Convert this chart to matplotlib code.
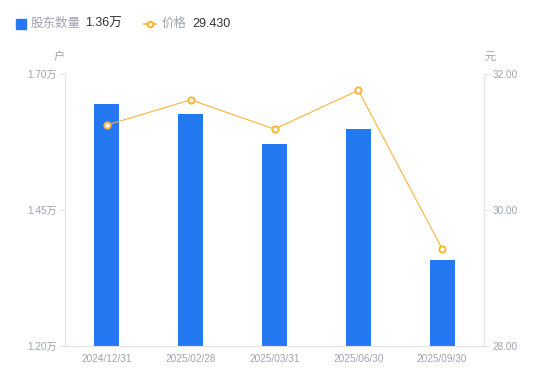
import matplotlib.pyplot as plt
import numpy as np

plt.rcParams['font.family'] = ['Liberation Sans', 'Noto Sans CJK SC', 'DejaVu Sans']

# data
dates = ["2024/12/31", "2025/02/28", "2025/03/31", "2025/06/30", "2025/09/30"]
holders = [1.645, 1.627, 1.571, 1.599, 1.358]   # 万户
price = [31.25, 31.62, 31.19, 31.76, 29.43]

left_ticks = [1.20, 1.45, 1.70]
right_ticks = [28.00, 30.00, 32.00]

blue = "#2478F2"
orange = "#FAB43A"
grey = "#9EA3B0"
axis_col = "#E3E5EA"

fig = plt.figure(figsize=(5.5, 3.81), dpi=100)
ax = fig.add_axes([65/550, 35/381, 419/550, 272/381])

x = np.arange(len(dates))
ax.bar(x, holders, width=0.3, color=blue, zorder=2)
ax.set_xlim(-0.5, len(dates) - 0.5)
ax.set_ylim(left_ticks[0], left_ticks[-1])
ax.set_yticks(left_ticks)
ax.set_yticklabels([f"{t:.2f}万" for t in left_ticks])
ax.set_xticks(x)
ax.set_xticklabels(dates)

ax2 = ax.twinx()
ax2.plot(x, price, color=orange, lw=0.8, marker="o", ms=4.5,
         mfc="white", mec=orange, mew=1.4, zorder=3)
ax2.set_ylim(right_ticks[0], right_ticks[-1])
ax2.set_yticks(right_ticks)
ax2.set_yticklabels([f"{t:.2f}" for t in right_ticks])

for a in (ax, ax2):
    for s in a.spines.values():
        s.set_visible(False)
    a.tick_params(colors=axis_col, labelcolor=grey, labelsize=7.2, length=4, width=0.8)

ax.spines["left"].set_visible(True)
ax.spines["left"].set_color(axis_col)
ax.spines["bottom"].set_visible(True)
ax.spines["bottom"].set_color(axis_col)
ax2.spines["right"].set_visible(True)
ax2.spines["right"].set_color(axis_col)
ax.tick_params(axis="x", length=0, pad=6)
ax.tick_params(axis="y", pad=2)
ax2.tick_params(axis="y", pad=2)

# unit labels
fig.text(59/550, 1 - 57/381, "户", color=grey, fontsize=8, ha="center", va="center")
fig.text(490/550, 1 - 57/381, "元", color=grey, fontsize=8, ha="center", va="center")

# legend
ly = 1 - 24/381
fig.patches.append(plt.Rectangle((16/550, ly - 5/381), 10/550, 10/381,
                                 transform=fig.transFigure, color=blue))
fig.text(31/550, ly, "股东数量", color=grey, fontsize=9, va="center")
fig.text(85/550, ly, "1.36万", color="#333333", fontsize=9, va="center")
fig.add_artist(plt.Line2D([144/550, 150/550, 156/550], [ly, ly, ly],
                          transform=fig.transFigure, color=orange, lw=1.2,
                          marker="o", ms=4, mfc="white", mec=orange, mew=1.5,
                          markevery=[1]))
fig.text(162/550, ly, "价格", color=grey, fontsize=9, va="center")
fig.text(192/550, ly, "29.430", color="#333333", fontsize=9, va="center")

fig.savefig("out.png", dpi=100)
